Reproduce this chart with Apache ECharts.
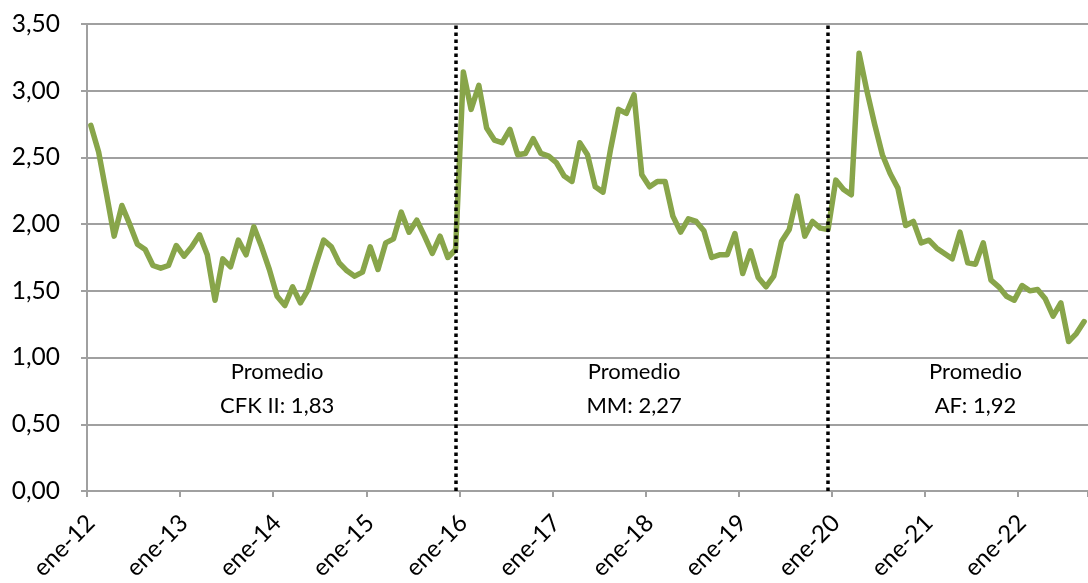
<!DOCTYPE html>
<html>
<head>
<meta charset="utf-8">
<script src="https://cdn.jsdelivr.net/npm/echarts@6/dist/echarts.min.js"></script>
<style>
html,body{margin:0;padding:0;background:#fff;}
#chart{width:1088px;height:583px;}
</style>
</head>
<body>
<div id="chart"></div>
<script>
// Month labels (Spanish abbreviations) and years shown
var monthNames = ['ene','feb','mar','abr','may','jun','jul','ago','sep','oct','nov','dic'];
var years = ['12','13','14','15','16','17','18','19','20','21','22'];
var nMonths = 129; // ene-12 .. sep-22

// Series values (monthly)
var values2012 = [2.74,2.54,2.23,1.91,2.14,2.00,1.85,1.81,1.69,1.67,1.69,1.84];
var values2013 = [1.76,1.83,1.92,1.77,1.43,1.74,1.68,1.88,1.77,1.98,1.83,1.66];
var values2014 = [1.46,1.39,1.53,1.41,1.51,1.70,1.88,1.83,1.71,1.65,1.61,1.64];
var values2015 = [1.83,1.66,1.86,1.89,2.09,1.94,2.03,1.91,1.78,1.91,1.75,1.81];
var values2016 = [3.14,2.86,3.04,2.72,2.63,2.61,2.71,2.52,2.53,2.64,2.53,2.51];
var values2017 = [2.46,2.36,2.32,2.61,2.52,2.28,2.24,2.57,2.86,2.83,2.97,2.37];
var values2018 = [2.28,2.32,2.32,2.06,1.94,2.04,2.02,1.95,1.75,1.77,1.77,1.93];
var values2019 = [1.63,1.80,1.60,1.53,1.61,1.87,1.96,2.21,1.91,2.02,1.97,1.96];
var values2020 = [2.33,2.26,2.22,3.28,3.00,2.75,2.52,2.38,2.27,1.99,2.02,1.86];
var values2021 = [1.88,1.82,1.78,1.74,1.94,1.71,1.70,1.86,1.58,1.53,1.46,1.43];
var values2022 = [1.54,1.50,1.51,1.44,1.31,1.41,1.12,1.18,1.27];

// Period separators (category at which the dotted line is drawn)
var separators = ['dic-15','dic-19'];

// Annotations: anchor category, value, text
var notes = [
  {cat:'ene-14', val:0.765, text:'Promedio\nCFK II: 1,83'},
  {cat:'nov-17', val:0.765, text:'Promedio\nMM: 2,27'},
  {cat:'jul-21', val:0.765, text:'Promedio\nAF: 1,92'}
];

// Y axis ticks
var yMin = 0, yMax = 3.5, yStep = 0.5;

var categories = [];
for (var i = 0; i < nMonths; i++) {
  categories.push(monthNames[i % 12] + '-' + years[Math.floor(i / 12)]);
}
var values = [].concat(values2012, values2013, values2014, values2015, values2016,
  values2017, values2018, values2019, values2020, values2021, values2022);

var FONT = 'Lato';
var gridColor = '#a0a0a0';

var chart = echarts.init(document.getElementById('chart'), null, {renderer:'canvas'});
chart.setOption({
  animation: false,
  backgroundColor: '#ffffff',
  grid: {left: 87, right: 0, top: 24, bottom: 92, containLabel: false},
  xAxis: {
    type: 'category',
    data: categories,
    boundaryGap: true,
    axisLine: {show: true, lineStyle: {color: gridColor, width: 2}},
    axisTick: {show: true, interval: 11, length: 6, inside: false, lineStyle: {color: gridColor, width: 2}},
    axisLabel: {
      show: true, interval: 11, rotate: 45, margin: 28,
      color: '#000', fontFamily: FONT, fontSize: 24, lineHeight: 12
    },
    splitLine: {show: false}
  },
  yAxis: {
    type: 'value',
    min: yMin, max: yMax, interval: yStep,
    axisLine: {show: true, lineStyle: {color: gridColor, width: 2}},
    axisTick: {show: true, length: 6, inside: false, lineStyle: {color: gridColor, width: 2}},
    axisLabel: {
      margin: 27, color: '#000', fontFamily: FONT, fontSize: 24.5,
      formatter: function (v) { return v.toFixed(2).replace('.', ','); }
    },
    splitLine: {show: true, lineStyle: {color: gridColor, width: 2}}
  },
  series: [{
    type: 'line',
    data: values,
    symbol: 'none',
    smooth: false,
    lineStyle: {color: '#88a54a', width: 5.5, join: 'round', cap: 'round'},
    itemStyle: {color: '#88a54a'},
    z: 3,
    markLine: {
      silent: true,
      symbol: ['none', 'none'],
      label: {show: false},
      lineStyle: {color: '#000', width: 3.5, type: [3.5, 3.5]},
      data: separators.map(function (c) { return {xAxis: c}; }),
      z: 4
    },
    markPoint: {
      silent: true,
      symbol: 'circle',
      symbolSize: 1,
      itemStyle: {color: 'rgba(0,0,0,0)'},
      label: {
        show: true, position: 'inside', color: '#000',
        fontFamily: FONT, fontSize: 22, lineHeight: 34, align: 'center'
      },
      data: notes.map(function (n) {
        return {coord: [n.cat, n.val], label: {formatter: n.text}};
      })
    }
  }]
});
</script>
</body>
</html>
